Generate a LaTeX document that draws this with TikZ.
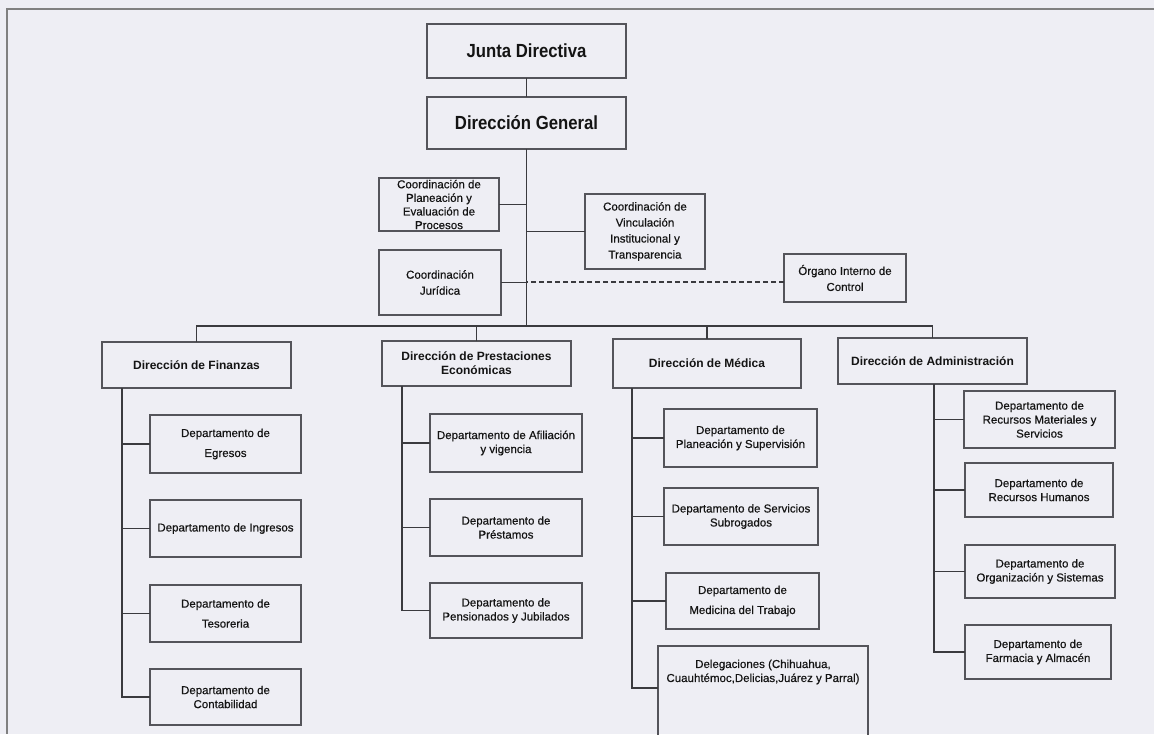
\documentclass[tikz,border=0pt]{standalone}
\usepackage{fontspec}
\setmainfont{Liberation Sans}
\newfontfamily\dfont[FakeBold=0.5]{Liberation Sans}
\newfontfamily\hfont[FakeStretch=0.88]{Liberation Sans}
\definecolor{bg}{RGB}{238,238,244}
\definecolor{ln}{RGB}{58,58,62}
\definecolor{bxc}{RGB}{84,84,90}
\tikzset{
  box/.style={draw=bxc, line width=1.2pt, inner sep=0pt, outer sep=0pt, align=center, text=black!92},
  txt/.style={align=center, text=black!92, font=\dfont\fontsize{11.5}{14}\selectfont},
  dept/.style={box, txt},
  deptf/.style={box, txt, font=\dfont\fontsize{11.5}{20}\selectfont},
  coord/.style={box, font=\dfont\fontsize{11.5}{13.6}\selectfont},
  coordw/.style={box, font=\dfont\fontsize{11.5}{16}\selectfont},
  dir/.style={box, font=\bfseries\fontsize{12}{14}\selectfont},
  topbox/.style={box, font=\hfont\bfseries\fontsize{19}{22}\selectfont},
  conn/.style={draw=ln, line width=1.2pt},
  frame/.style={draw=black!50, line width=1.5pt},
}
\newcommand\bx[7]{\node[#1, minimum width={#5pt-#3pt}, minimum height={#6pt-#4pt}] (#2) at ({(#3+#5)/2},{(#4+#6)/2}) {#7};}
\begin{document}
\begin{tikzpicture}[x=1pt,y=-1pt]
\fill[bg] (0,0) rectangle (1154,734);
\useasboundingbox (0,0) rectangle (1154,734);
\draw[frame] (1154,9) -- (7,9) -- (7,734);

% top
\bx{topbox}{jd}{427}{24}{626}{78}{Junta Directiva}
\bx{topbox}{dg}{427}{97}{626}{149}{Dirección General}

% coordinations
\bx{coord}{cpe}{379}{178}{499}{231}{Coordinación de\\Planeación y\\Evaluación de\\Procesos}
\bx{coordw}{cju}{379}{250}{501}{315}{Coordinación\\Jurídica}
\bx{coordw}{cvi}{585}{194}{705}{269}{Coordinación de\\Vinculación\\Institucional y\\Transparencia}
\bx{coordw}{oic}{784}{254}{906}{302}{Órgano Interno de\\Control}

% directions
\bx{dir}{fin}{102}{342}{291}{388}{Dirección de Finanzas}
\bx{dir}{pre}{382}{341}{571}{386}{Dirección de Prestaciones\\Económicas}
\bx{dir}{med}{613}{339}{801}{388}{Dirección de Médica}
\bx{dir}{adm}{838}{338}{1027}{384}{Dirección de Administración}

% Finanzas
\bx{deptf}{egr}{150}{415}{301}{473}{Departamento de\\Egresos}
\bx{dept}{ing}{150}{500}{301}{557}{Departamento de Ingresos}
\bx{deptf}{tes}{150}{585}{301}{642}{Departamento de\\Tesoreria}
\bx{dept}{con}{150}{669}{301}{725}{Departamento de\\Contabilidad}

% Prestaciones
\bx{dept}{afi}{430}{414}{582}{472}{Departamento de Afiliación\\y vigencia}
\bx{dept}{prs}{430}{499}{582}{556}{Departamento de\\Préstamos}
\bx{dept}{pen}{430}{583}{582}{638}{Departamento de\\Pensionados y Jubilados}

% Medica
\bx{dept}{pla}{664}{409}{817}{467}{Departamento de\\Planeación y Supervisión}
\bx{dept}{sub}{664}{488}{818}{545}{Departamento de Servicios\\Subrogados}
\bx{deptf}{mtr}{666}{573}{819}{629}{Departamento de\\Medicina del Trabajo}
\node[box, minimum width=210pt, minimum height=94pt,
      label={[txt, anchor=center, yshift=-26pt]north:{Delegaciones (Chihuahua,\\Cuauhtémoc,Delicias,Juárez y Parral)}}]
      (del) at (763,693) {};

% Administracion
\bx{dept}{rma}{964}{391}{1115}{448}{Departamento de\\Recursos Materiales y\\Servicios}
\bx{dept}{rhu}{965}{463}{1113}{517}{Departamento de\\Recursos Humanos}
\bx{dept}{ors}{965}{545}{1115}{598}{Departamento de\\Organización y Sistemas}
\bx{dept}{far}{965}{625}{1111}{679}{Departamento de\\Farmacia y Almacén}

% connectors
\coordinate (bus) at (0,326);
\draw[conn] (jd) -- (dg);
\draw[conn] (dg.south) -- (dg.south |- bus);
\draw[conn] (fin.north) -- (fin.north |- bus) -- (adm.north |- bus) -- (adm.north);
\draw[conn] (pre.north) -- (pre.north |- bus);
\draw[conn] (med.north) -- (med.north |- bus);
\draw[conn] (cpe.east) -- (cpe.east -| dg.south);
\draw[conn] (cju.east) -- (cju.east -| dg.south);
\draw[conn] (cvi.west) -- (cvi.west -| dg.south);
\draw[conn, dash pattern=on 5pt off 3pt] ([yshift=-4pt]oic.west) -- ([yshift=-4pt]oic.west -| dg.south);

\foreach \d in {egr,ing,tes,con} \draw[conn] ([xshift=20pt]fin.south west) |- (\d.west);
\foreach \d in {afi,prs,pen} \draw[conn] ([xshift=20pt]pre.south west) |- (\d.west);
\foreach \d in {pla,sub,mtr} \draw[conn] ([xshift=19pt]med.south west) |- (\d.west);
\draw[conn] ([xshift=19pt]med.south west) |- ([yshift=5pt]del.west);
\foreach \d in {rma,rhu,ors,far} \draw[conn] ([xshift=96pt]adm.south west) |- (\d.west);
\end{tikzpicture}
\end{document}
